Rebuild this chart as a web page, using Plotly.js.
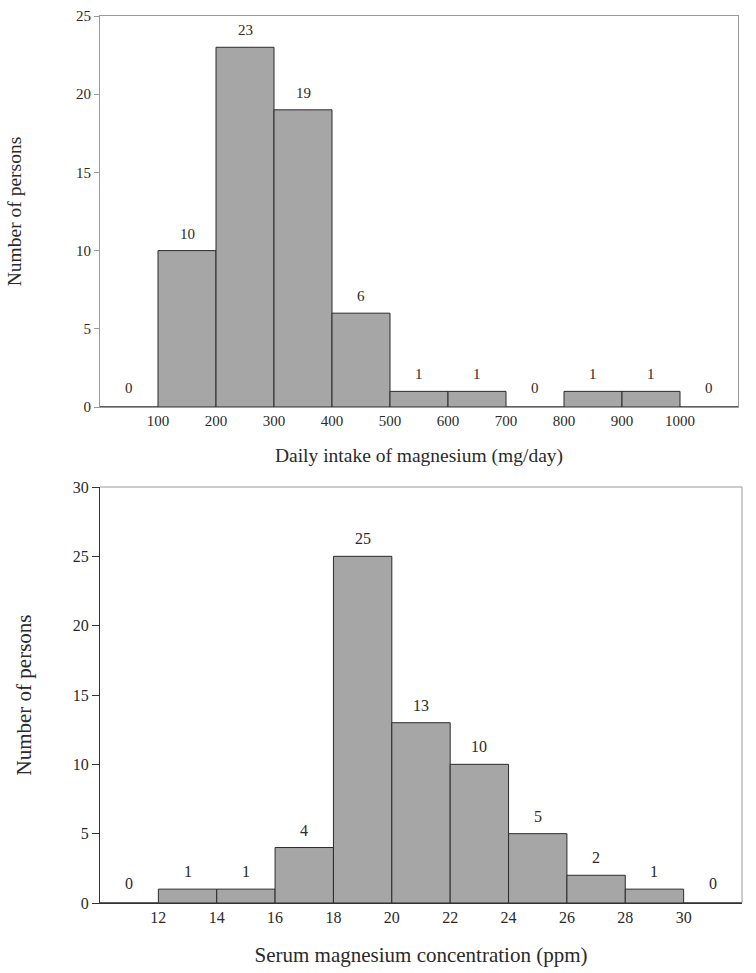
<!DOCTYPE html>
<html><head><meta charset="utf-8">
<script src="https://cdn.plot.ly/plotly-3.0.1.min.js"></script>
<style>html,body{margin:0;padding:0;background:#fff}#c{width:756px;height:973px}</style>
</head><body><div id="c"></div>
<script>
// Top histogram: daily intake of magnesium (mg/day), bins of 100
const intakeBinStart = [0, 100, 200, 300, 400, 500, 600, 700, 800, 900, 1000];
const intakeCounts   = [0, 10, 23, 19, 6, 1, 1, 0, 1, 1, 0];
const intakeTicks    = [100, 200, 300, 400, 500, 600, 700, 800, 900, 1000];
const intakeBinWidth = 100;

// Bottom histogram: serum magnesium concentration (ppm), bins of 2
const serumBinStart = [10, 12, 14, 16, 18, 20, 22, 24, 26, 28, 30];
const serumCounts   = [0, 1, 1, 4, 25, 13, 10, 5, 2, 1, 0];
const serumTicks    = [12, 14, 16, 18, 20, 22, 24, 26, 28, 30];
const serumBinWidth = 2;

const FONT = "Liberation Serif";
const barFill = "#a7a6a7";
const barLine = "#2b2b2b";
const frameGray = "#9a9a9a";
const txt = "#2a2a2a";

function centers(starts, w){ return starts.map(s => s + w/2); }

const traces = [
  {type:"bar", x:centers(intakeBinStart,intakeBinWidth), y:intakeCounts, width:intakeBinWidth,
   xaxis:"x", yaxis:"y", marker:{color:barFill, line:{color:barLine, width:1}}, hoverinfo:"x+y"},
  {type:"bar", x:centers(serumBinStart,serumBinWidth), y:serumCounts, width:serumBinWidth,
   xaxis:"x2", yaxis:"y2", marker:{color:barFill, line:{color:barLine, width:1}}, hoverinfo:"x+y"}
];

const annotations = [];
centers(intakeBinStart,intakeBinWidth).forEach((c,i)=>{
  annotations.push({x:c, y:intakeCounts[i], xref:"x", yref:"y", text:String(intakeCounts[i]),
    showarrow:false, yanchor:"bottom", yshift:intakeCounts[i]===0?9:7, font:{family:FONT,size:15,color:txt}});
});
centers(serumBinStart,serumBinWidth).forEach((c,i)=>{
  annotations.push({x:c, y:serumCounts[i], xref:"x2", yref:"y2", text:String(serumCounts[i]),
    showarrow:false, yanchor:"bottom", yshift:serumCounts[i]===0?9:7, font:{family:FONT,size:16,color:txt}});
});

const H = 973, W = 756;
const layout = {
  width:W, height:H, margin:{l:0,r:0,t:0,b:0}, showlegend:false,
  paper_bgcolor:"#fff", plot_bgcolor:"#fff", bargap:0,
  font:{family:FONT, color:txt},
  xaxis:{domain:[100/W, 738/W], anchor:"y", range:[0,1100], tickvals:intakeTicks, ticks:"",
    showgrid:false, zeroline:false, showline:true, mirror:true, linecolor:frameGray, linewidth:1,
    tickfont:{family:FONT,size:15,color:txt},
    title:{text:"Daily intake of magnesium (mg/day)", font:{family:FONT,size:19.5,color:txt}, standoff:20}},
  yaxis:{domain:[1-407/H, 1-16/H], anchor:"x", range:[0,25], tickvals:[0,5,10,15,20,25], ticks:"outside",
    ticklen:5, tickcolor:frameGray, showgrid:false, zeroline:false, showline:true, mirror:true,
    linecolor:frameGray, linewidth:1, tickfont:{family:FONT,size:15,color:txt},
    title:{text:"Number of persons", font:{family:FONT,size:19.5,color:txt}, standoff:49}},
  xaxis2:{domain:[100/W, 742/W], anchor:"y2", range:[10,32], tickvals:serumTicks, ticks:"",
    showgrid:false, zeroline:false, showline:true, linecolor:"#333", linewidth:1,
    tickfont:{family:FONT,size:16,color:txt},
    title:{text:"Serum magnesium concentration (ppm)", font:{family:FONT,size:21,color:txt}, standoff:22}},
  yaxis2:{domain:[1-903/H, 1-487/H], anchor:"x2", range:[0,30], tickvals:[0,5,10,15,20,25,30], ticks:"outside",
    ticklen:7, tickcolor:"#333", showgrid:false, zeroline:false, showline:true,
    linecolor:"#333", linewidth:1, tickfont:{family:FONT,size:16,color:txt},
    title:{text:"Number of persons", font:{family:FONT,size:21,color:txt}, standoff:35}},
  shapes:[
    {type:"line", xref:"x2 domain", yref:"y2 domain", x0:0, x1:1, y0:1, y1:1, line:{color:frameGray,width:1}},
    {type:"line", xref:"x2 domain", yref:"y2 domain", x0:1, x1:1, y0:0, y1:1, line:{color:frameGray,width:1}}
  ],
  annotations:annotations
};

Plotly.newPlot("c", traces, layout, {staticPlot:true});
</script></body></html>
